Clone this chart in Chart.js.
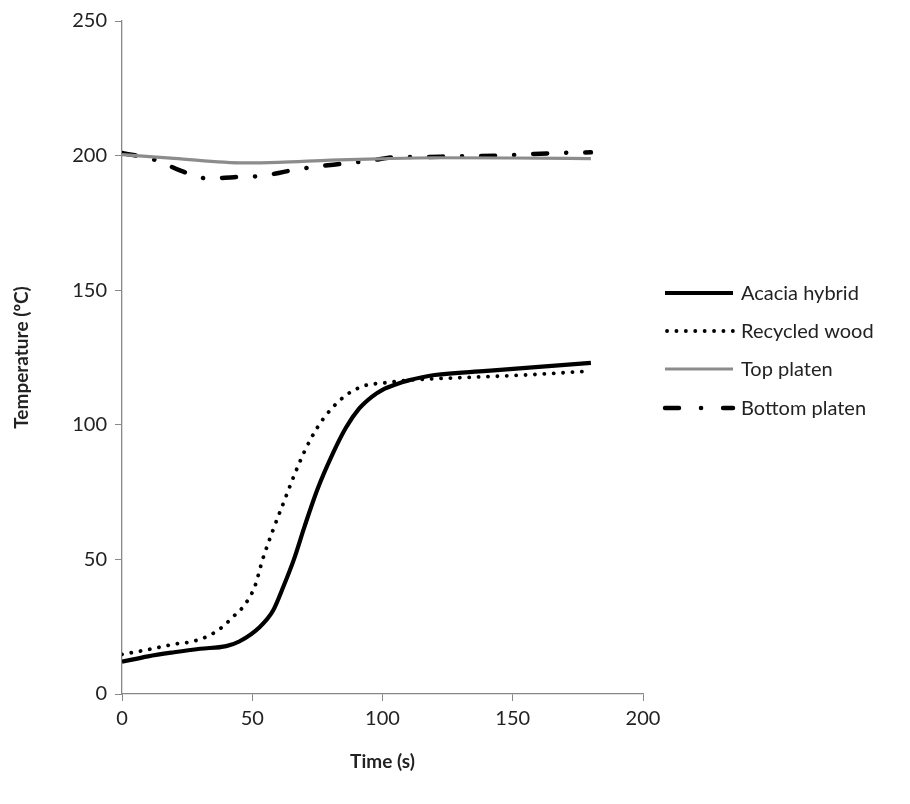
<!DOCTYPE html>
<html><head><meta charset="utf-8">
<script src="https://cdn.jsdelivr.net/npm/chart.js@4/dist/chart.umd.min.js"></script>
<style>html,body{margin:0;padding:0;background:#fff}#wrap{width:910px;height:804px}</style>
</head><body><div id="wrap"><canvas id="c" width="910" height="804"></canvas></div>
<script>
const seriesNames = ["Acacia hybrid", "Recycled wood", "Top platen", "Bottom platen"];
const acaciaX = [0, 10, 20, 30, 40, 45, 53, 58, 62, 66, 70, 75, 81, 86, 91, 96, 100, 105, 110, 120, 140, 160, 180];
const acaciaY = [12, 14, 15.5, 16.8, 17.8, 19.5, 25, 31, 40, 50, 62, 76, 89.5, 99, 106, 110.5, 113, 115, 116.5, 118.5, 120, 121.5, 123];
const recycledX = [0, 10, 20, 27, 33, 38, 43, 47, 51, 54, 58, 62, 66, 70, 75, 80, 86, 93, 100, 112, 130, 155, 180];
const recycledY = [14.7, 16.5, 18.5, 19.5, 21.5, 24.5, 29, 33, 40, 50, 61, 71, 81, 90, 99, 105.5, 111, 114.5, 115.5, 116.7, 117.5, 118.5, 120];
const topX = [0, 20, 47, 60, 80, 98, 120, 150, 180];
const topY = [200.4, 199, 197.3, 197.5, 198.3, 198.8, 199.2, 199.1, 198.9];
const bottomX = [0, 13, 23, 33, 43, 54, 64, 75, 85, 95, 105, 116, 127, 137, 148, 158, 169, 180];
const bottomY = [201, 198.3, 194.2, 191.5, 192, 192.5, 194.3, 196, 197, 198.1, 199.4, 199.5, 199.7, 199.8, 200.1, 200.6, 201, 201.2];
const xTicks = [0, 50, 100, 150, 200];
const yTicks = [0, 50, 100, 150, 200, 250];

const pts = (xs, ys) => xs.map((x, i) => ({x: x, y: ys[i]}));
const styles = [
  {color: '#000', width: 4.2, dash: [], cap: 'butt'},
  {color: '#000', width: 3.8, dash: [0.1, 9.3], cap: 'round'},
  {color: '#8c8c8c', width: 3.2, dash: [], cap: 'butt'},
  {color: '#000', width: 4.5, dash: [14, 19, 0.1, 19], cap: 'round'}
];
const dataSets = [pts(acaciaX, acaciaY), pts(recycledX, recycledY), pts(topX, topY), pts(bottomX, bottomY)];

const legendPlugin = {
  id: 'customLegend',
  afterDraw(chart) {
    const ctx = chart.ctx;
    const rows = [293, 331, 369, 408];
    ctx.save();
    seriesNames.forEach((name, i) => {
      const s = styles[i];
      ctx.beginPath();
      ctx.strokeStyle = s.color;
      ctx.lineWidth = s.width;
      ctx.lineCap = s.cap;
      ctx.setLineDash(i === 3 ? [14, 22, 0.1, 22] : s.dash);
      ctx.moveTo(i === 1 ? 667 : 665, rows[i]);
      ctx.lineTo(733, rows[i]);
      ctx.stroke();
      ctx.setLineDash([]);
      ctx.fillStyle = '#222';
      ctx.font = '20px Lato, "Open Sans", sans-serif';
      ctx.textBaseline = 'middle';
      ctx.textAlign = 'left';
      ctx.fillText(name, 741, rows[i] + 1);
    });
    ctx.restore();
  }
};

new Chart(document.getElementById('c'), {
  type: 'line',
  data: {
    datasets: seriesNames.map((n, i) => ({
      label: n,
      data: dataSets[i],
      borderColor: styles[i].color,
      borderWidth: styles[i].width,
      borderDash: styles[i].dash,
      borderCapStyle: styles[i].cap,
      pointRadius: 0,
      tension: 0.4,
      cubicInterpolationMode: 'monotone',
      fill: false
    }))
  },
  options: {
    responsive: false,
    animation: false,
    layout: {padding: {left: 0, top: 21, right: 267, bottom: 0}},
    plugins: {legend: {display: false}, tooltip: {enabled: false}},
    scales: {
      x: {
        type: 'linear', min: 0, max: 200,
        afterBuildTicks: s => { s.ticks = xTicks.map(v => ({value: v})); },
        afterFit: s => { s.height = 110; },
        grid: {display: true, drawOnChartArea: false, drawTicks: true, tickLength: 7, color: '#888'},
        border: {display: true, color: '#888', width: 1.3},
        ticks: {color: '#222', font: {family: 'Lato, "Open Sans", sans-serif', size: 20}, padding: 6, maxRotation: 0},
        title: {display: true, text: 'Time (s)', color: '#222', font: {family: 'Lato, "Open Sans", sans-serif', size: 19, weight: 'bold'}, padding: {top: 8, bottom: 31}}
      },
      y: {
        type: 'linear', min: 0, max: 250,
        afterBuildTicks: s => { s.ticks = yTicks.map(v => ({value: v})); },
        afterFit: s => { s.width = 122; },
        grid: {display: true, drawOnChartArea: false, drawTicks: true, tickLength: 7, color: '#888'},
        border: {display: true, color: '#888', width: 1.3},
        ticks: {color: '#222', font: {family: 'Lato, "Open Sans", sans-serif', size: 20}, padding: 8},
        title: {display: true, text: 'Temperature (ºC)', color: '#222', font: {family: 'Lato, "Open Sans", sans-serif', size: 19, weight: 'bold'}, padding: {bottom: 0, top: 10}}
      }
    }
  },
  plugins: [legendPlugin]
});
</script></body></html>
